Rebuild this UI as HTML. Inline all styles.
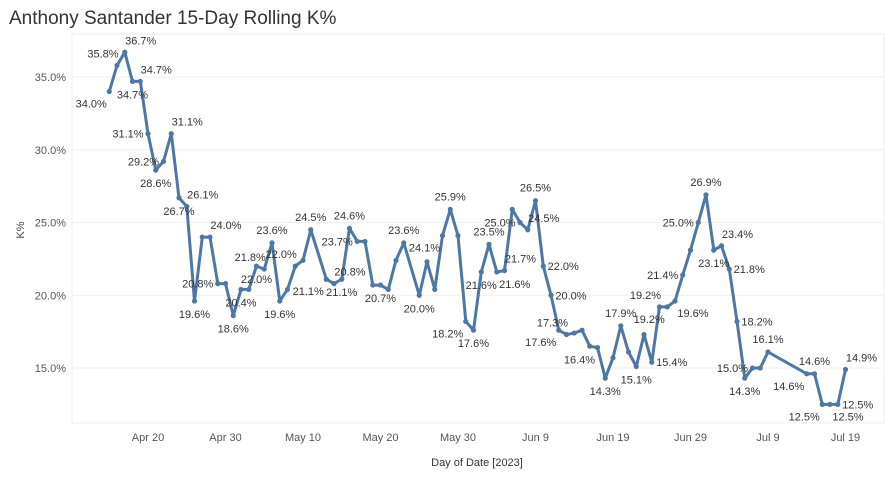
<!DOCTYPE html>
<html><head><meta charset="utf-8">
<style>
body{margin:0;background:#fff;width:888px;height:479px;overflow:hidden;font-family:"Liberation Sans",sans-serif}
svg text{font-family:"Liberation Sans",sans-serif}
</style></head>
<body>
<svg id="chart" width="888" height="479">
<text x="9" y="24" font-size="19" fill="#333">Anthony Santander 15-Day Rolling K%</text>
<text transform="translate(24,230) rotate(-90)" font-size="11" fill="#444" text-anchor="middle">K%</text>
<text x="477" y="466" font-size="11" fill="#333" text-anchor="middle">Day of Date [2023]</text>
<g id="grid"></g><g id="line"></g><g id="pts"></g><g id="lbls"></g>
</svg>
<script>
const dates=["04-15","04-16","04-17","04-18","04-19","04-20","04-21","04-22","04-23","04-24","04-25","04-26","04-27","04-28","04-29","04-30","05-01","05-02","05-03","05-04","05-05","05-06","05-07","05-08","05-09","05-10","05-11","05-13","05-14","05-15","05-16","05-17","05-18","05-19","05-20","05-21","05-22","05-23","05-25","05-26","05-27","05-28","05-29","05-30","05-31","06-01","06-02","06-03","06-04","06-05","06-06","06-07","06-08","06-09","06-10","06-11","06-12","06-13","06-14","06-15","06-16","06-17","06-18","06-19","06-20","06-21","06-22","06-23","06-24","06-25","06-26","06-27","06-28","06-29","06-30","07-01","07-02","07-03","07-04","07-05","07-06","07-07","07-08","07-09","07-14","07-15","07-16","07-17","07-18","07-19"];
const kRate=[34.0,35.8,36.7,34.7,34.7,31.1,28.6,29.2,31.1,26.7,26.1,19.6,24.0,24.0,20.8,20.8,18.6,20.4,20.4,22.0,21.8,23.6,19.6,20.4,22.0,22.4,24.5,21.1,20.8,21.1,24.6,23.7,23.7,20.7,20.7,20.4,22.4,23.6,20.0,22.3,20.4,24.1,25.9,24.1,18.2,17.6,21.6,23.5,21.6,21.7,25.9,25.0,24.5,26.5,22.0,20.0,17.6,17.3,17.4,17.6,16.5,16.4,14.3,15.7,17.9,16.1,15.1,17.3,15.4,19.2,19.2,19.6,21.4,23.1,25.0,26.9,23.1,23.4,21.8,18.2,14.3,15.0,15.0,16.1,14.6,14.6,12.5,12.5,12.5,14.9];
const labelSide=["bl","al","ar","b","ar","l","b","l","ar","b","ar","b","","ar","l","","b","b","","b","al","a","b","","al","","a","bl","ar","b","a","l","","","b","","","a","b","","","bl","a","","bl","b","b","a","br","ar","","l","ar","a","r","r","bl","al","","","","bl","b","","a","","b","","r","al","bl","br","l","","l","a","b","ar","r","r","b","l","","a","bl","a","bl","br","r","ar"];
const yTicks=[15,20,25,30,35];
const xTickLabels=["Apr 20","Apr 30","May 10","May 20","May 30","Jun 9","Jun 19","Jun 29","Jul 9","Jul 19"];
const xTickDates=["04-20","04-30","05-10","05-20","05-30","06-09","06-19","06-29","07-09","07-19"];

const NS="http://www.w3.org/2000/svg";
const dayOf=s=>(Date.UTC(2023,+s.slice(0,2)-1,+s.slice(3))-Date.UTC(2023,3,20))/864e5;
const X=s=>148+7.75*dayOf(s);
const Y=v=>77+(35-v)*14.55;
function mk(tag,attrs,parent,txt){const e=document.createElementNS(NS,tag);for(const k in attrs)e.setAttribute(k,attrs[k]);if(txt!=null)e.textContent=txt;document.getElementById(parent).appendChild(e);return e;}
mk("rect",{x:72,y:34,width:812,height:389,fill:"none",stroke:"#eeeeee"},"grid");
yTicks.forEach(t=>{
  const l=mk("line",{x1:72,x2:884,y1:Y(t),y2:Y(t),stroke:"#efefef"},"grid");
  
  
  const tx=mk("text",{x:66,y:Y(t)+4,"font-size":11,fill:"#555","text-anchor":"end"},"grid",t.toFixed(1)+"%");
  
  
});
xTickDates.forEach((d,i)=>{
  const tx=mk("text",{x:X(d),y:441,"font-size":11,fill:"#555","text-anchor":"middle"},"grid",xTickLabels[i]);
  
  
});
const path=dates.map((d,i)=>(i?"L":"M")+X(d).toFixed(1)+","+Y(kRate[i]).toFixed(1)).join("");
const pl=mk("path",{d:path,fill:"none",stroke:"#4e77a5","stroke-width":3,"stroke-linejoin":"round"},"line");


const off={a:[0,-9],b:[0,17],l:[-20,4],r:[20,4],al:[-14,-8],ar:[16,-8],bl:[-18,16],br:[18,16]};
dates.forEach((d,i)=>{
  const c=mk("circle",{cx:X(d),cy:Y(kRate[i]),r:2.6,fill:"#4e77a5"},"pts");
  
  
  const s=labelSide[i];
  if(s){
    const o=off[s];
    const t=mk("text",{x:X(d)+o[0],y:Y(kRate[i])+o[1],"font-size":11,fill:"#333","text-anchor":"middle"},"lbls",kRate[i].toFixed(1)+"%");
    
    
  }
});
</script>
</body></html>
